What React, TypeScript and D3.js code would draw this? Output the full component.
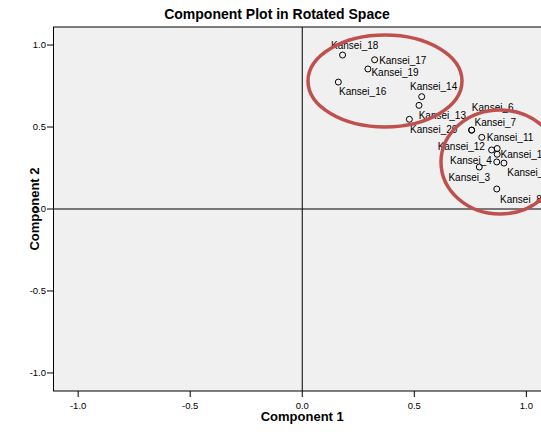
import React from "react";
import * as d3 from "d3";

// ---- data ----
const itemNames = [
  "Kansei_18", "Kansei_17", "Kansei_19", "Kansei_16", "Kansei_14", "Kansei_13",
  "Kansei_20", "Kansei_6", "Kansei_7", "Kansei_11", "Kansei_12", "Kansei_15",
  "Kansei_10", "Kansei_4", "Kansei_9", "Kansei_3", "Kansei_8",
];
const component1 = [
  0.180, 0.323, 0.293, 0.161, 0.533, 0.521,
  0.478, 0.756, 0.756, 0.801, 0.845, 0.870,
  0.870, 0.868, 0.900, 0.790, 0.868,
];
const component2 = [
  0.939, 0.910, 0.854, 0.774, 0.685, 0.632,
  0.547, 0.481, 0.481, 0.437, 0.360, 0.369,
  0.334, 0.287, 0.280, 0.256, 0.122,
];
const tickValues = [-1.0, -0.5, 0.0, 0.5, 1.0];
const titleText = "Component Plot in Rotated Space";
const xTitle = "Component 1";
const yTitle = "Component 2";

// ---- layout / styling (not data) ----
// label placement: [dx, dy, anchor, visible]
const labelPlacement: Record<string, [number, number, string, boolean]> = {
  Kansei_18: [-11.5, -6, "start", true],
  Kansei_17: [4.5, 4, "start", true],
  Kansei_19: [3.5, 6.6, "start", true],
  Kansei_16: [0.7, 13.3, "start", true],
  Kansei_14: [-11.7, -6.4, "start", true],
  Kansei_13: [-0.3, 13.3, "start", true],
  Kansei_20: [0.7, 13.3, "start", true],
  Kansei_6: [0.2, -19, "start", true],
  Kansei_7: [2.8, -4.1, "start", true],
  Kansei_11: [5, 3.7, "start", true],
  Kansei_12: [-6.7, 0.3, "end", true],
  Kansei_15: [0, 0, "start", false],
  Kansei_10: [3.4, 3.7, "start", true],
  Kansei_4: [-5, 2, "end", true],
  Kansei_9: [3.3, 13, "start", true],
  Kansei_3: [-10, 14.3, "middle", true],
  Kansei_8: [3.3, 13.7, "start", true],
};

const W = 541;
const H = 434;
const plotLeft = 53.5;
const plotRight = 551;
const plotTop = 27;
const plotBottom = 391;
const FONT = "Arial, 'Liberation Sans', Helvetica, sans-serif";

const fmt = d3.formatLocale({
  decimal: ".",
  thousands: ",",
  grouping: [3],
  currency: ["", ""],
  minus: "-",
}).format(".1f");

export default function App() {
  const x = d3.scaleLinear().domain([-1.11, 1.11]).range([plotLeft, plotRight]);
  const y = d3.scaleLinear().domain([-1.11, 1.11]).range([plotBottom, plotTop]);

  const points = itemNames.map((name, i) => ({
    name,
    cx: x(component1[i]),
    cy: y(component2[i]),
  }));

  return (
    <svg
      width={W}
      height={H}
      style={{ position: "absolute", left: 0, top: 0, background: "#ffffff" }}
      fontFamily={FONT}
    >
      <rect x={0} y={0} width={W} height={H} fill="#ffffff" />
      {/* plot area */}
      <rect
        x={plotLeft}
        y={plotTop}
        width={plotRight - plotLeft}
        height={plotBottom - plotTop}
        fill="#f0f0f0"
        stroke="#000"
        strokeWidth={1}
      />
      {/* reference lines */}
      <line x1={x(0)} x2={x(0)} y1={plotTop} y2={plotBottom} stroke="#000" strokeWidth={1} />
      <line x1={plotLeft} x2={plotRight} y1={y(0)} y2={y(0)} stroke="#000" strokeWidth={1} />

      {/* y axis ticks */}
      {tickValues.map((t) => (
        <g key={"y" + t}>
          <line x1={plotLeft - 6.5} x2={plotLeft} y1={y(t)} y2={y(t)} stroke="#000" strokeWidth={1} />
          <text x={plotLeft - 7.5} y={y(t) + 3.3} fontSize={9.5} textAnchor="end" fill="#000">
            {fmt(t)}
          </text>
        </g>
      ))}
      {/* x axis ticks */}
      {tickValues.map((t) => (
        <g key={"x" + t}>
          <line x1={x(t)} x2={x(t)} y1={plotBottom} y2={plotBottom + 6} stroke="#000" strokeWidth={1} />
          <text x={x(t)} y={plotBottom + 17.5} fontSize={9.5} textAnchor="middle" fill="#000">
            {fmt(t)}
          </text>
        </g>
      ))}

      {/* points */}
      {points.map((p) => (
        <circle key={"c" + p.name} cx={p.cx} cy={p.cy} r={3} fill="none" stroke="#000" strokeWidth={1} />
      ))}
      {/* labels */}
      {points.map((p) => {
        const pl = labelPlacement[p.name];
        if (!pl || !pl[3]) return null;
        return (
          <text
            key={"t" + p.name}
            x={p.cx + pl[0]}
            y={p.cy + pl[1]}
            fontSize={10}
            textAnchor={pl[2] as any}
            fill="#000"
          >
            {p.name}
          </text>
        );
      })}

      {/* annotation ellipses */}
      <ellipse cx={385} cy={81} rx={77} ry={46} fill="none" stroke="#c0504d" strokeWidth={3.5} />
      <ellipse cx={500} cy={162} rx={59} ry={52} fill="none" stroke="#c0504d" strokeWidth={3.5} />

      {/* titles */}
      <text x={277} y={19} fontSize={14} fontWeight="bold" textAnchor="middle" fill="#000">
        {titleText}
      </text>
      <text x={(plotLeft + plotRight) / 2} y={421} fontSize={13} fontWeight="bold" textAnchor="middle" fill="#000">
        {xTitle}
      </text>
      <text
        transform={`translate(39, ${(plotTop + plotBottom) / 2}) rotate(-90)`}
        fontSize={13}
        fontWeight="bold"
        textAnchor="middle"
        fill="#000"
      >
        {yTitle}
      </text>
    </svg>
  );
}
